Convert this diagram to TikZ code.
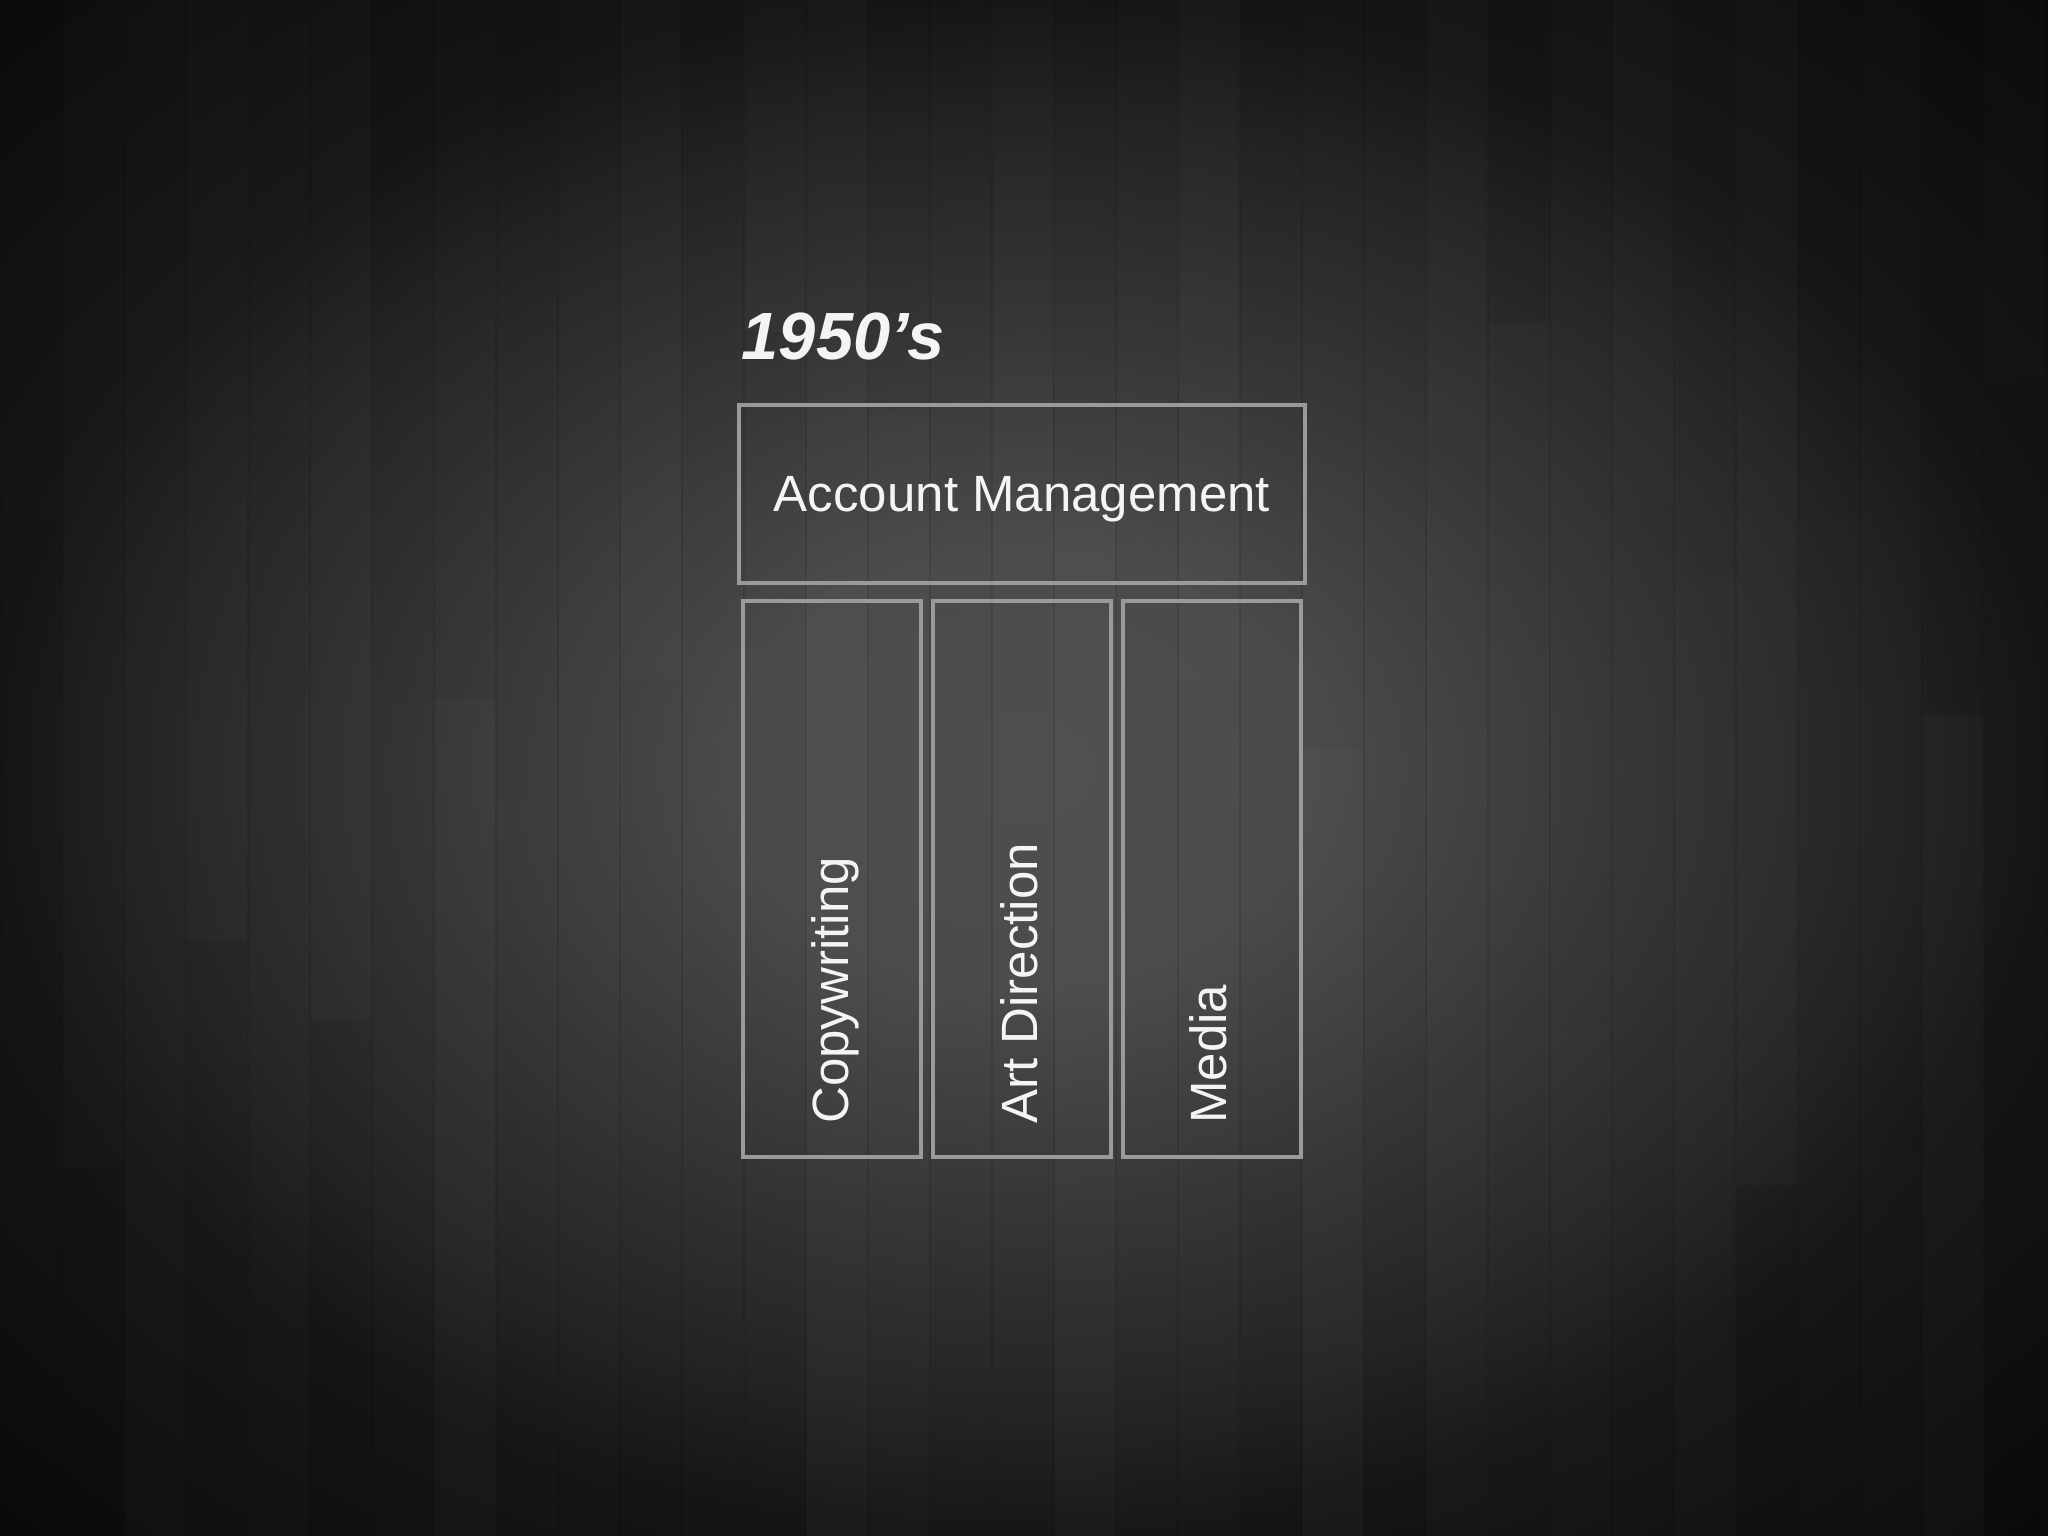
\documentclass[tikz,border=0pt]{standalone}
\usepackage{fontspec}
\setmainfont{Liberation Sans}
\usetikzlibrary{positioning,calc}
\definecolor{bgcore}{HTML}{4C4C4C}
\definecolor{bgmid}{HTML}{333333}
\definecolor{bgedge}{HTML}{151515}
\definecolor{bgcorner}{HTML}{0A0A0A}
\definecolor{boxline}{HTML}{9A9A9A}
\definecolor{boxtext}{HTML}{F4F4F4}
\pgfdeclareradialshading{vignette}{\pgfpoint{0bp}{0bp}}{%
  color(0bp)=(bgcore); color(7bp)=(bgcore!92!bgmid); color(15bp)=(bgmid);
  color(21bp)=(bgmid!45!bgedge); color(25bp)=(bgedge); color(35bp)=(bgcorner);
  color(50bp)=(bgcorner)}
\newcommand{\labelfont}{\fontsize{14.5}{17}\selectfont}

\begin{document}
\begin{tikzpicture}[x=0.01cm,y=-0.01cm,
    frame/.style={draw=boxline, line width=1.2pt, inner sep=0pt},
    headbox/.style={frame, minimum width=5.66cm, minimum height=1.78cm,
      text=boxtext, font=\labelfont},
    colbox/.style={frame, minimum width=1.78cm, minimum height=5.56cm},
    collabel/.style={rotate=90, anchor=mid west, inner sep=0pt,
      text=boxtext, font=\labelfont}]
  % background: dark boards with a light centre
  \useasboundingbox (0,0) rectangle (2048,1536);
  \shade[shading=vignette] (0,0) rectangle (2048,1536);
  \pgfmathsetseed{42}
  \foreach \i in {0,...,33}{
    \pgfmathsetmacro\cut{300+900*rnd}
    \pgfmathsetmacro\oa{0.025*rnd}
    \pgfmathsetmacro\ob{0.025*rnd}
    \fill[white, opacity=\oa] (\i*62,0) rectangle ++(62,\cut);
    \fill[white, opacity=\ob] (\i*62,\cut) rectangle ++(62,1536-\cut);
    \draw[black, opacity=.1, line width=.5pt] (\i*62,0) -- ++(0,1536);
  }
  % title
  \node[anchor=base west, inner sep=0pt, text=boxtext,
    font=\fontsize{19}{23}\selectfont\bfseries\itshape] (era) at (741,359) {1950’s};
  % structure
  \node[headbox, text depth=-0.12cm] (acct) at (1022,494) {Account Management};
  \node[colbox] (copy) at (832,879) {};
  \node[colbox, right=0.075cm of copy] (art) {};
  \node[colbox, right=0.075cm of art] (media) {};
  \node[collabel] (copyl) at ($(copy.south)+(7,-35)$) {Copywriting};
  \node[collabel] (artl) at ($(art.south)+(6,-35)$) {Art Direction};
  \node[collabel] (medial) at ($(media.south)+(6,-35)$) {Media};
\end{tikzpicture}
\end{document}
